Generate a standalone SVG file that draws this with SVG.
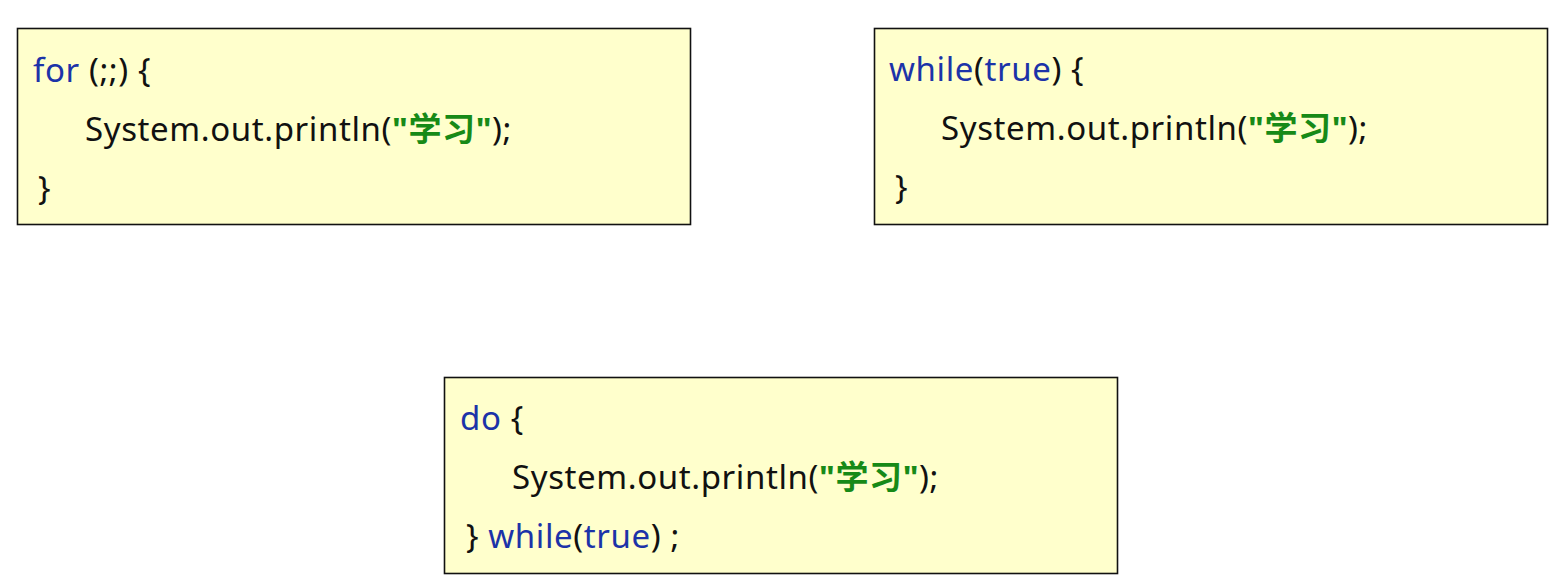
<svg xmlns="http://www.w3.org/2000/svg" width="1558" height="585" viewBox="0 0 1558 585">
<style>
.box{fill:#ffffcc;stroke:#111;stroke-width:1.6}
text{font-family:"Noto Sans","Noto Sans CJK SC",sans-serif;font-size:33px;letter-spacing:0.6px;fill:#111}
.kw{fill:#1c33a8}
.str{fill:#178a17;font-weight:bold}
</style>
<rect width="1558" height="585" fill="#ffffff"/>
<g id="for-loop">
<rect class="box" x="17.5" y="28.5" width="673" height="196"/>
<text x="33" y="82"><tspan class="kw">for</tspan> (;;) {</text>
<text x="85" y="141">System.out.println(<tspan class="str">"学习"</tspan>);</text>
<text x="38" y="200">}</text>
</g>
<g id="while-loop">
<rect class="box" x="874.5" y="28.5" width="673" height="196"/>
<text x="889" y="81"><tspan class="kw">while</tspan>(<tspan class="kw">true</tspan>) {</text>
<text x="941" y="140">System.out.println(<tspan class="str">"学习"</tspan>);</text>
<text x="895" y="199">}</text>
</g>
<g id="do-while-loop">
<rect class="box" x="444.5" y="377.5" width="673" height="196"/>
<text x="460" y="430"><tspan class="kw">do</tspan> {</text>
<text x="512" y="489">System.out.println(<tspan class="str">"学习"</tspan>);</text>
<text x="466" y="548">} <tspan class="kw">while</tspan>(<tspan class="kw">true</tspan>) ;</text>
</g>
<g id="connectors"></g>
</svg>
